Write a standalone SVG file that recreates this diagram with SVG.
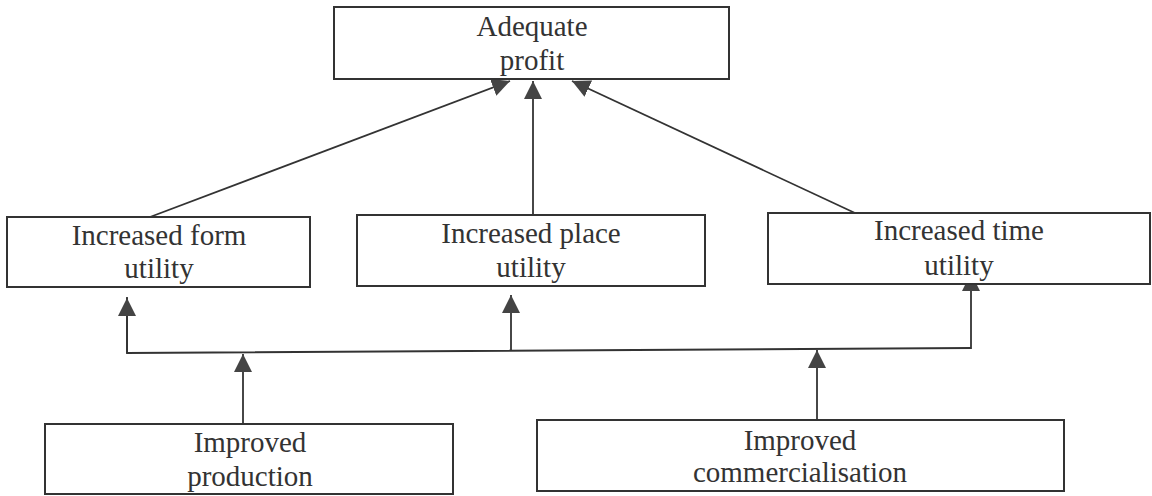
<svg xmlns="http://www.w3.org/2000/svg" width="1152" height="496" viewBox="0 0 1152 496">
<style>
.box{fill:#fff;stroke:#333;stroke-width:2}
.lbl{font-family:"Liberation Serif","Times New Roman",serif;font-size:29px;fill:#333;text-anchor:middle}
.con{fill:none;stroke:#333;stroke-width:1.8}
</style>
<defs>
<marker id="ah" markerUnits="userSpaceOnUse" markerWidth="20" markerHeight="20" viewBox="0 0 20 20" refX="18" refY="10" orient="auto">
<path d="M0,1 L18,10 L0,19 Z" fill="#444"/>
</marker>
</defs>
<rect width="1152" height="496" fill="#fff"/>
<g id="connectors">
<line class="con" x1="150" y1="217" x2="510" y2="81" marker-end="url(#ah)"/>
<line class="con" x1="533" y1="215" x2="533" y2="81" marker-end="url(#ah)"/>
<line class="con" x1="855" y1="213" x2="572" y2="81" marker-end="url(#ah)"/>
<polyline class="con" points="127,297 127,353 971,348"/>
<line class="con" x1="127" y1="353" x2="127" y2="298" marker-end="url(#ah)"/>
<line class="con" x1="511" y1="351" x2="511" y2="295" marker-end="url(#ah)"/>
<line class="con" x1="971" y1="349" x2="971" y2="273" marker-end="url(#ah)"/>
<line class="con" x1="243" y1="424" x2="243" y2="354" marker-end="url(#ah)"/>
<line class="con" x1="817" y1="421" x2="817" y2="350" marker-end="url(#ah)"/>
</g>
<g id="adequate-profit">
<rect class="box" x="334" y="7" width="395" height="72"/>
<text class="lbl" x="532" y="36">Adequate</text>
<text class="lbl" x="532" y="70">profit</text>
</g>
<g id="form-utility">
<rect class="box" x="7" y="217" width="303" height="70"/>
<text class="lbl" x="159" y="245">Increased form</text>
<text class="lbl" x="159" y="278">utility</text>
</g>
<g id="place-utility">
<rect class="box" x="357" y="215" width="348" height="71"/>
<text class="lbl" x="531" y="243">Increased place</text>
<text class="lbl" x="531" y="277">utility</text>
</g>
<g id="time-utility">
<rect class="box" x="768" y="213" width="382" height="71"/>
<text class="lbl" x="959" y="240">Increased time</text>
<text class="lbl" x="959" y="275">utility</text>
</g>
<g id="improved-production">
<rect class="box" x="45" y="424" width="408" height="70"/>
<text class="lbl" x="250" y="452">Improved</text>
<text class="lbl" x="250" y="486">production</text>
</g>
<g id="improved-commercialisation">
<rect class="box" x="537" y="420" width="527" height="71"/>
<text class="lbl" x="800" y="450">Improved</text>
<text class="lbl" x="800" y="482">commercialisation</text>
</g>
</svg>
